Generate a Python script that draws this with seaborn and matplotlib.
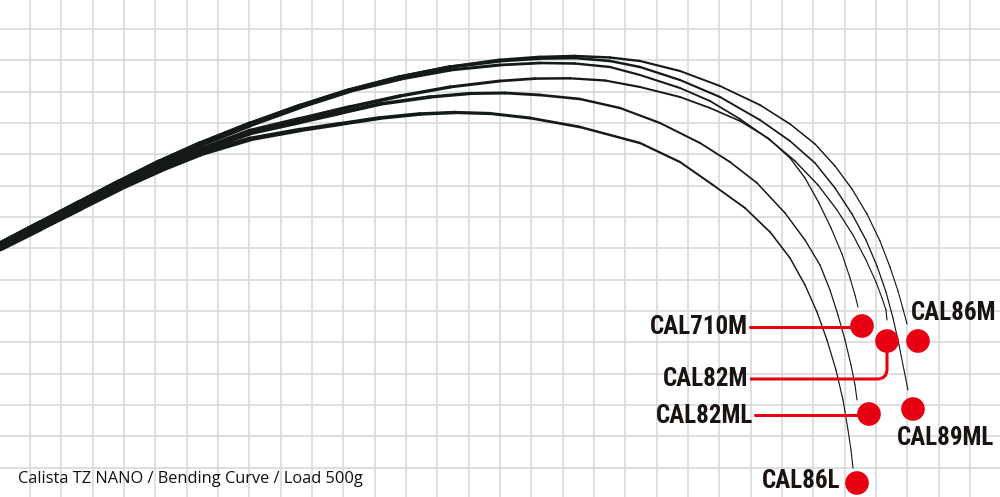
import numpy as np
import matplotlib
matplotlib.use('Agg')
import matplotlib.pyplot as plt
from matplotlib import font_manager
from matplotlib.collections import LineCollection
from matplotlib.path import Path
from matplotlib.patches import PathPatch
import pandas as pd
import seaborn as sns

# rod curves (pixel units, y down)
cal86m_x = [0, 40, 80, 120, 160, 200, 250, 300, 350, 400, 450, 500, 540, 575, 610, 640, 680, 720, 760, 790, 815, 835, 852, 867, 880, 890, 898, 903, 907]
cal86m_y = [245, 224, 203, 182, 162, 144, 124, 106, 90, 77, 67, 60, 57, 56, 57.5, 61, 71, 86, 105, 124, 144, 166, 189, 214, 241, 267, 291, 309, 324]

cal89ml_x = [0, 40, 80, 120, 160, 200, 250, 300, 350, 400, 450, 500, 540, 575, 610, 640, 680, 720, 760, 790, 815, 835, 852, 866, 877, 886, 893, 899, 904, 908]
cal89ml_y = [245, 224, 203, 182, 162, 144, 124, 106, 90, 77, 67, 61, 58.5, 58, 61, 67, 80, 97, 120, 141, 163, 188, 214, 240, 266, 292, 318, 345, 370, 390]

cal82m_x = [0, 40, 80, 120, 160, 200, 250, 300, 350, 400, 450, 500, 540, 575, 610, 640, 680, 710, 740, 770, 795, 818, 837, 853, 866, 876, 882, 886, 887]
cal82m_y = [246, 225, 204, 183, 163, 145, 125, 107, 91, 79, 70, 65, 63, 63.5, 67, 75, 88, 101, 119, 140, 161, 185, 210, 235, 260, 282, 298, 310, 320]

cal710m_x = [0, 40, 80, 120, 160, 200, 250, 300, 350, 400, 450, 500, 535, 570, 605, 640, 680, 710, 740, 768, 790, 805, 819, 831, 842, 850, 855, 858]
cal710m_y = [247, 227, 206, 186, 167, 150, 131, 119, 107, 96, 87, 81, 78.6, 78.3, 80.5, 87, 97, 108, 121, 138, 158, 178, 203, 228, 254, 278, 295, 307]

cal82ml_x = [0, 40, 80, 120, 160, 200, 250, 300, 340, 380, 430, 470, 505, 540, 580, 620, 660, 700, 730, 757, 785, 805, 820, 830, 838, 845, 851, 855, 857]
cal82ml_y = [247, 227, 207, 187, 168, 151, 133, 122, 113, 104, 97, 93.5, 93, 95, 99, 108, 123, 143, 162, 183, 213, 240, 265, 290, 315, 340, 365, 385, 400]

cal86l_x = [0, 40, 80, 120, 160, 200, 250, 300, 340, 380, 420, 455, 490, 530, 580, 640, 680, 713, 745, 770, 790, 805, 817, 827, 836, 843, 848, 851, 853]
cal86l_y = [248, 228, 208, 188, 170, 154, 139, 130, 124, 118, 114, 112.5, 113.5, 118, 127, 143, 162, 185, 208, 232, 258, 285, 312, 340, 370, 400, 430, 450, 468]

models = ['CAL710M', 'CAL82M', 'CAL86M', 'CAL82ML', 'CAL89ML', 'CAL86L']
dot_x = [862, 887, 918, 869, 913, 857]
dot_y = [326, 341, 341, 414, 409, 483]

title = 'Calista TZ NANO / Bending Curve / Load 500g'

curves = [(cal86m_x, cal86m_y), (cal89ml_x, cal89ml_y), (cal82m_x, cal82m_y),
          (cal710m_x, cal710m_y), (cal82ml_x, cal82ml_y), (cal86l_x, cal86l_y)]

sns.set_style('white')

names = {f.name for f in font_manager.fontManager.ttflist}
label_font = next((f for f in ['Liberation Sans Narrow', 'DejaVu Sans Condensed', 'Roboto Condensed', 'Roboto']
                   if f in names), 'DejaVu Sans')

fig = plt.figure(figsize=(10, 4.97), dpi=100)
ax = fig.add_axes([0, 0, 1, 1])
ax.set_xlim(0, 1000)
ax.set_ylim(497, 0)

# paper grid
for gx in np.arange(30, 1005, 31.33):
    ax.axvline(gx, color='#d9d9d9', lw=1.2, zorder=0)
for gy in np.arange(29, 500, 31.33):
    ax.axhline(gy, color='#d9d9d9', lw=1.2, zorder=0)

# rods, thick at the butt and thin at the tip
for cx, cy in curves:
    pts = np.column_stack([cx, cy]).astype(float)
    segs = np.stack([pts[:-1], pts[1:]], axis=1)
    seglen = np.hypot(*(pts[1:] - pts[:-1]).T)
    s = (np.cumsum(seglen) - seglen / 2) / seglen.sum()
    widths = 0.8 + 4.4 * (1 - s) ** 1.7
    lc = LineCollection(segs, linewidths=widths, colors='#141a18', capstyle='round', joinstyle='round', zorder=2)
    lc.set_snap(False)
    ax.add_collection(lc)

red = '#e60012'

# leader lines
ax.plot([750, 862], [327, 327], color=red, lw=2.2, zorder=3)
ax.plot([755, 869], [415, 415], color=red, lw=2.2, zorder=3)
verts = [(750, 379), (877, 379), (887, 379), (887, 369), (887, 341)]
codes = [Path.MOVETO, Path.LINETO, Path.CURVE3, Path.CURVE3, Path.LINETO]
ax.add_patch(PathPatch(Path(verts, codes), fill=False, edgecolor=red, lw=2.2, zorder=3))

dots = pd.DataFrame({'model': models, 'x': dot_x, 'y': dot_y})
sns.scatterplot(data=dots, x='x', y='y', s=290, color=red, edgecolor='none', ax=ax, zorder=4, legend=False)

lab = dict(fontsize=18, fontweight='bold', color='#1a1311', family=label_font, va='center')
ax.text(748, 327, 'CAL710M', ha='right', **lab)
ax.text(748, 379, 'CAL82M', ha='right', **lab)
ax.text(753, 416, 'CAL82ML', ha='right', **lab)
ax.text(911, 313, 'CAL86M', ha='left', **lab)
ax.text(897, 438, 'CAL89ML', ha='left', **lab)
ax.text(840, 481, 'CAL86L', ha='right', **lab)

ax.text(18, 479, title, fontsize=11.8, color='#111111', family=['Open Sans', 'DejaVu Sans'], va='center', ha='left')

ax.set_xlabel('')
ax.set_ylabel('')
ax.set_xticks([])
ax.set_yticks([])
for sp in ax.spines.values():
    sp.set_visible(False)

fig.savefig('out.png', dpi=100)
